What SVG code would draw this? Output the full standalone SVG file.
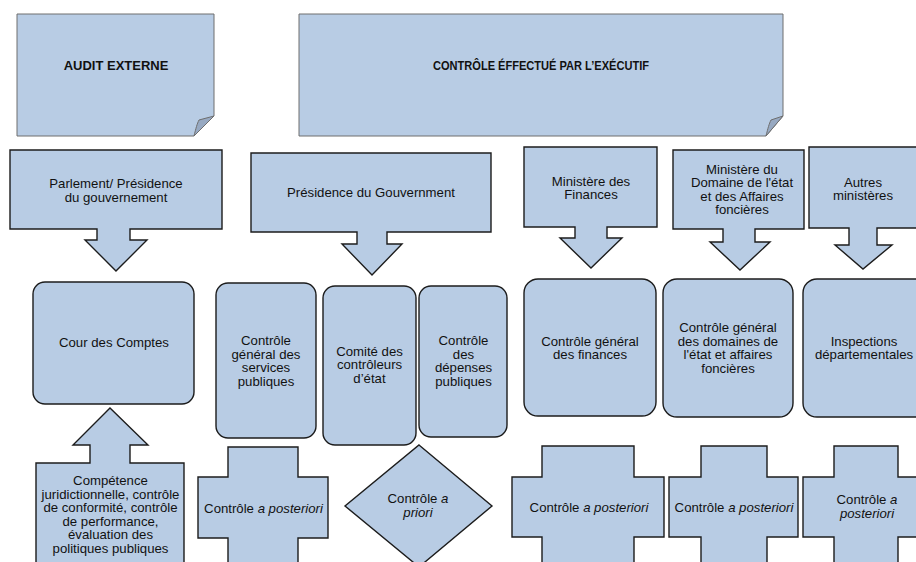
<svg xmlns="http://www.w3.org/2000/svg" width="916" height="562" viewBox="0 0 916 562">
  <style>
    .note { fill: #b8cce4; stroke: #6e6e6e; stroke-width: 1; }
    .fold { fill: #97a9c2; stroke: #6e6e6e; stroke-width: 1; }
    .shape { fill: #b8cce4; stroke: #1c1c1c; stroke-width: 1.4; stroke-linejoin: miter; }
    text { font-family: "Liberation Sans", Arial, sans-serif; font-size: 13.2px; fill: #111; text-anchor: middle; }
    .title { font-weight: bold; font-size: 13px; }
    .it { font-style: italic; }
  </style>
  <rect width="916" height="562" fill="#ffffff"/>

  <!-- header notes with folded corner -->
  <g id="audit-externe">
    <path class="note" d="M17,14 H214 V116 L194,136 H17 Z"/>
    <path class="fold" d="M194,136 C196,128 197,124 199,120 L214,116 Z"/>
    <text class="title" x="116" y="69.5">AUDIT EXTERNE</text>
  </g>
  <g id="controle-executif">
    <path class="note" d="M299,14 H783 V116 L766,136 H299 Z"/>
    <path class="fold" d="M766,136 C768,128 769,124 771,120 L783,116 Z"/>
    <text class="title" x="541" y="70" textLength="216" lengthAdjust="spacingAndGlyphs">CONTRÔLE ÉFFECTUÉ PAR L’EXÉCUTIF</text>
  </g>

  <!-- down-arrow callouts: institutions -->
  <g id="parlement">
    <path class="shape" d="M10,150 H222 V229 H130 V240 H147 L116,271 L85,240 H97 V229 H10 Z"/>
    <text x="116" y="188">Parlement/ Présidence</text>
    <text x="116" y="201.5">du gouvernement</text>
  </g>
  <g id="presidence">
    <path class="shape" d="M251,153 H491 V232 H387 V244 H402 L372,275 L342,244 H357 V232 H251 Z"/>
    <text x="371" y="196.5">Présidence du Gouvernment</text>
  </g>
  <g id="ministere-finances">
    <path class="shape" d="M524,147 H657 V227 H607 V238 H622 L591,268 L560,238 H575 V227 H524 Z"/>
    <text x="591" y="185.5">Ministère des</text>
    <text x="591" y="199">Finances</text>
  </g>
  <g id="ministere-domaine">
    <path class="shape" d="M673,150 H804 V229 H755 V242 H770 L740,270 L710,242 H723 V229 H673 Z"/>
    <text x="742" y="173.5">Ministère du</text>
    <text x="742" y="187">Domaine de l'état</text>
    <text x="742" y="200.5">et des Affaires</text>
    <text x="742" y="214">foncières</text>
  </g>
  <g id="autres-ministeres">
    <path class="shape" d="M809,147 H930 V228 H877 V245 H892 L863,269 L835,245 H849 V228 H809 Z"/>
    <text x="863" y="186.5">Autres</text>
    <text x="863" y="200">ministères</text>
  </g>

  <!-- control bodies -->
  <g id="cour-des-comptes">
    <rect class="shape" x="33" y="282" width="161" height="122" rx="12"/>
    <text x="114" y="347">Cour des Comptes</text>
  </g>
  <g id="cgsp">
    <rect class="shape" x="216" y="283" width="100" height="155" rx="12"/>
    <text x="266" y="345.3">Contrôle</text>
    <text x="266" y="358.8">général des</text>
    <text x="266" y="372.3">services</text>
    <text x="266" y="385.8">publiques</text>
  </g>
  <g id="comite-controleurs">
    <rect class="shape" x="323" y="286" width="93" height="159" rx="12"/>
    <text x="369.5" y="355.5">Comité des</text>
    <text x="369.5" y="369">contrôleurs</text>
    <text x="369.5" y="382.5">d’état</text>
  </g>
  <g id="controle-depenses">
    <rect class="shape" x="419" y="286" width="88" height="151" rx="12"/>
    <text x="463.5" y="345.3">Contrôle</text>
    <text x="463.5" y="358.8">des</text>
    <text x="463.5" y="372.3">dépenses</text>
    <text x="463.5" y="385.8">publiques</text>
  </g>
  <g id="cgf">
    <rect class="shape" x="524" y="279" width="132" height="137" rx="14"/>
    <text x="590" y="345.5">Contrôle général</text>
    <text x="590" y="359">des finances</text>
  </g>
  <g id="cgd">
    <rect class="shape" x="663" y="279" width="130" height="138" rx="14"/>
    <text x="728" y="332">Contrôle général</text>
    <text x="728" y="345.5">des domaines de</text>
    <text x="728" y="359">l'état et affaires</text>
    <text x="728" y="372.5">foncières</text>
  </g>
  <g id="inspections">
    <rect class="shape" x="803" y="279" width="140" height="138" rx="14"/>
    <text x="864" y="345.5">Inspections</text>
    <text x="864" y="359">départementales</text>
  </g>

  <!-- up-arrow callout: competences -->
  <g id="competences">
    <path class="shape" d="M36,600 V463 H90 V445 H73 L110,408 L148,445 H130 V463 H184 V600 Z"/>
    <text x="110.5" y="485">Compétence</text>
    <text x="110.5" y="498.5">juridictionnelle, contrôle</text>
    <text x="110.5" y="512">de conformité, contrôle</text>
    <text x="110.5" y="525.5">de performance,</text>
    <text x="110.5" y="539">évaluation des</text>
    <text x="110.5" y="552.5">politiques publiques</text>
  </g>

  <!-- control types -->
  <g id="posteriori-1">
    <path class="shape" d="M228,447 H298 V477 H328 V538 H298 V600 H228 V538 H198 V477 H228 Z"/>
    <text x="263.5" y="512.5">Contrôle <tspan class="it">a posteriori</tspan></text>
  </g>
  <g id="priori">
    <path class="shape" d="M419,445 L492,506 L419,567 L345,506 Z"/>
    <text x="418" y="503">Contrôle <tspan class="it">a</tspan></text>
    <text x="418" y="516.5" class="it">priori</text>
  </g>
  <g id="posteriori-2">
    <path class="shape" d="M542,446 H634 V477 H664 V537 H634 V600 H542 V537 H512 V477 H542 Z"/>
    <text x="589" y="511.5">Contrôle <tspan class="it">a posteriori</tspan></text>
  </g>
  <g id="posteriori-3">
    <path class="shape" d="M701,446 H767 V477 H798 V537 H767 V600 H701 V537 H669 V477 H701 Z"/>
    <text x="734" y="511.5">Contrôle <tspan class="it">a posteriori</tspan></text>
  </g>
  <g id="posteriori-4">
    <path class="shape" d="M834,446 H898 V477 H960 V537 H898 V600 H834 V537 H803 V477 H834 Z"/>
    <text x="867" y="504">Contrôle <tspan class="it">a</tspan></text>
    <text x="867" y="517.5" class="it">posteriori</text>
  </g>

  <g id="connectors"></g>
</svg>
